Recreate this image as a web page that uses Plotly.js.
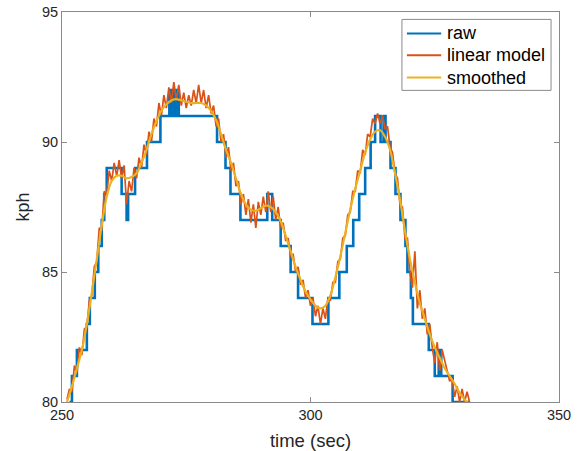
<!DOCTYPE html>
<html>
<head>
<meta charset="utf-8">
<script src="https://cdn.plot.ly/plotly-3.0.1.min.js"></script>
<style>html,body{margin:0;padding:0;background:#fff;}#chart{width:587px;height:451px;}</style>
</head>
<body>
<div id="chart"></div>
<script>
// ---- data ----
var xTicks = [250, 300, 350];
var yTicks = [80, 85, 90, 95];
var seriesNames = ['raw', 'linear model', 'smoothed'];
var seriesColors = ['#0072BD', '#D95319', '#EDB120'];

// raw: quantized speed, step changes (time, value held until next time)
var rawTime = [251.5, 252.0, 253.0, 255.0, 255.6, 256.6, 257.3, 258.0, 258.5, 259.0, 262.0, 263.0, 263.3, 264.7, 267.1, 269.8, 271.6, 272.0, 272.4, 272.8, 273.2, 273.5, 281.2, 282.9, 283.9, 285.9, 291.3, 292.3, 294.0, 296.0, 297.5, 300.4, 303.6, 305.8, 307.3, 308.6, 309.8, 311.0, 312.1, 313.0, 314.1, 314.7, 315.1, 316.1, 317.1, 318.1, 319.1, 319.5, 320.2, 320.6, 323.8, 325.0, 325.8, 326.3, 328.6, 332.0];
var rawKph  = [80, 81, 82, 83, 84, 85, 86, 87, 88, 89, 88, 87, 88, 89, 90, 91, 92, 91, 92, 91, 92, 91, 90, 89, 88, 87, 88, 87, 86, 85, 84, 83, 84, 85, 86, 87, 88, 89, 90, 91, 90, 91, 90, 89, 88, 87, 86, 85, 84, 83, 82, 81, 82, 81, 80, 80];

// linear model: every 0.5 s from 251.0 to 332.0
var linStart = 251.0, linStep = 0.5;
var linKph = [
80.1, 80.5, 80.4, 81.4, 81.1, 82.1, 81.8, 82.8, 82.9, 83.9,
84.1, 85.2, 85.4, 86.7, 86.6, 88.1, 88.0, 88.9, 88.5, 89.2,
88.7, 89.3, 88.6, 89.1, 87.6, 88.5, 88.1, 89.0, 88.6, 89.4,
89.0, 89.9, 89.5, 90.4, 90.0, 90.9, 90.6, 91.5, 91.0, 91.8,
91.3, 92.1, 91.5, 92.3, 91.6, 92.2, 91.4, 91.9, 91.3, 91.8,
91.4, 92.0, 91.5, 92.2, 91.5, 92.0, 91.3, 91.8, 91.1, 91.4,
90.6, 90.9, 90.0, 90.3, 89.4, 89.8, 88.9, 89.2, 88.3, 88.5,
87.6, 88.0, 87.2, 87.8, 86.9, 87.6, 86.7, 87.7, 87.2, 87.9,
87.3, 88.1, 87.3, 87.9, 87.0, 87.5, 86.7, 86.9, 86.2, 86.3,
85.6, 85.7, 85.0, 85.2, 84.5, 84.7, 84.0, 84.3, 83.7, 84.0,
83.3, 83.7, 83.0, 83.6, 83.2, 84.0, 83.9, 84.6, 84.6, 85.4,
85.5, 86.3, 86.4, 87.2, 87.3, 88.1, 88.1, 88.9, 88.8, 89.7,
89.5, 90.3, 90.2, 90.9, 90.7, 91.1, 90.7, 91.0, 90.5, 90.6,
89.8, 89.6, 88.8, 88.6, 87.6, 87.5, 86.3, 86.3, 85.0, 84.4,
85.8, 83.6, 84.3, 83.2, 83.6, 82.6, 83.0, 82.1, 81.5, 82.3,
81.2, 82.0, 81.6, 81.2, 80.8, 80.9, 80.2, 80.6, 80.0, 80.5,
80.0, 80.4, 80.0
];

// smoothed: every 1 s from 251 to 332
var smoothStart = 251, smoothStep = 1;
var smoothKph = [
80.0, 80.6, 81.3, 82.0, 83.0, 84.2, 85.5, 86.8, 87.9, 88.5,
88.7, 88.7, 88.6, 88.65, 88.8, 89.2, 89.7, 90.3, 90.8, 91.2,
91.45, 91.6, 91.65, 91.6, 91.55, 91.5, 91.5, 91.5, 91.4, 91.2,
90.85, 90.3, 89.7, 89.2, 88.6, 88.0, 87.6, 87.4, 87.35, 87.45,
87.55, 87.5, 87.3, 86.95, 86.4, 85.8, 85.2, 84.7, 84.25, 83.95,
83.7, 83.6, 83.7, 84.1, 84.8, 85.6, 86.5, 87.4, 88.2, 88.9,
89.6, 90.1, 90.4, 90.45, 90.2, 89.7, 88.8, 87.8, 86.6, 85.5,
84.6, 83.8, 83.2, 82.6, 82.1, 81.7, 81.3, 81.0, 80.7, 80.35,
80.1, 79.9
];

function timeAxis(start, step, n) {
  var a = [];
  for (var i = 0; i < n; i++) a.push(+(start + i * step).toFixed(3));
  return a;
}
var linTime = timeAxis(linStart, linStep, linKph.length);
var smoothTime = timeAxis(smoothStart, smoothStep, smoothKph.length);

var FONT = 'Liberation Sans, Arial, Helvetica, sans-serif';

var traces = [
  {x: rawTime, y: rawKph, name: seriesNames[0], mode: 'lines', showlegend: false, line: {color: seriesColors[0], width: 2.6, shape: 'hv'}},
  {x: linTime, y: linKph, name: seriesNames[1], mode: 'lines', showlegend: false, line: {color: seriesColors[1], width: 1.7}},
  {x: smoothTime, y: smoothKph, name: seriesNames[2], mode: 'lines', showlegend: false, line: {color: seriesColors[2], width: 2.2, shape: 'spline'}}
];

var axisCommon = {
  showline: true, linecolor: '#8a8a8a', linewidth: 1, mirror: 'ticks',
  ticks: 'inside', ticklen: 5, tickcolor: '#8a8a8a', showgrid: false, zeroline: false,
  tickfont: {family: FONT, size: 14.5, color: '#262626'}
};

// legend box (MATLAB style), placed in paper coordinates
var legBox = {x0: 0.684, x1: 0.984, y0: 0.799, y1: 0.981};
var legRows = [0.945, 0.889, 0.832];
var shapes = [{type: 'rect', xref: 'paper', yref: 'paper', x0: legBox.x0, x1: legBox.x1, y0: legBox.y0, y1: legBox.y1,
  line: {color: '#8a8a8a', width: 1}, fillcolor: '#fff', layer: 'above'}];
var annotations = [];
seriesNames.forEach(function (nm, i) {
  shapes.push({type: 'line', xref: 'paper', yref: 'paper', x0: 0.694, x1: 0.763, y0: legRows[i], y1: legRows[i],
    line: {color: seriesColors[i], width: 2}, layer: 'above'});
  annotations.push({xref: 'paper', yref: 'paper', x: 0.770, y: legRows[i], xanchor: 'left', yanchor: 'middle',
    text: nm, showarrow: false, font: {family: FONT, size: 18, color: '#000'}});
});

var layout = {
  width: 587, height: 451,
  margin: {l: 62, r: 28, t: 11.5, b: 48.5},
  paper_bgcolor: '#fff', plot_bgcolor: '#fff',
  showlegend: false,
  shapes: shapes,
  annotations: annotations,
  xaxis: Object.assign({}, axisCommon, {
    range: [250, 350], tickvals: xTicks, ticktext: xTicks.map(String),
    title: {text: 'time (sec)', font: {family: FONT, size: 18.5, color: '#262626'}, standoff: 12}
  }),
  yaxis: Object.assign({}, axisCommon, {
    range: [80, 95], tickvals: yTicks, ticktext: yTicks.map(String),
    title: {text: 'kph', font: {family: FONT, size: 18, color: '#262626'}, standoff: 7}
  })
};

Plotly.newPlot('chart', traces, layout, {staticPlot: true, displayModeBar: false});
</script>
</body>
</html>
